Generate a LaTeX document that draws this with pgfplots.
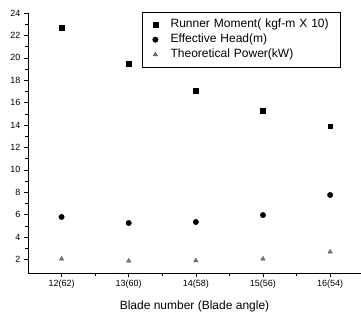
\documentclass[border=0pt]{standalone}
\usepackage{pgfplots}
\pgfplotsset{compat=1.18}
\usepackage{fontspec}
\setmainfont{Liberation Sans}
\pgfplotsset{
  myimg/.style={legend image code/.code={%
    \path (0bp,0bp) (22bp,0bp);
    \draw[#1] plot coordinates {(11bp,0bp)};}}}
\begin{document}
\begin{tikzpicture}
\begin{axis}[
  scale only axis,
  width=333bp, height=260bp,
  xmin=11.5, xmax=16.46,
  ymin=0.8, ymax=24,
  axis lines*=left,
  axis line style={line width=0.8bp},
  xtick={12,13,14,15,16},
  xticklabels={12(62),13(60),14(58),15(56),16(54)},
  ytick={2,4,...,24},
  minor x tick num=1,
  minor y tick num=1,
  tick align=outside,
  major tick length=4bp,
  minor tick length=2.5bp,
  tick style={black, line width=0.6bp},
  /pgf/number format/assume math mode=true,
  ticklabel style={font=\fontsize{9bp}{10bp}\selectfont},
  xticklabel style={yshift=1bp},
  xlabel={Blade number (Blade angle)},
  xlabel style={font=\fontsize{12bp}{13bp}\selectfont, yshift=-6bp},
  legend style={at={(0.342,1.004)}, anchor=north west,
    font=\fontsize{12bp}{13bp}\selectfont,
    draw=black, line width=0.5bp, inner xsep=2bp, inner ysep=5bp,
    nodes={text height=8.5bp, text depth=2.5bp, inner ysep=2bp},
    row sep=0bp,
    /tikz/every even column/.append style={text width=166bp},
    /tikz/every odd column/.append style={column sep=2bp}},
  legend cell align=left,
]
\addplot[only marks, mark=square*, mark size=2.4bp, black, myimg] coordinates {
 (12,22.7) (13,19.5) (14,17.1) (15,15.25) (16,13.9)};
\addlegendentry{Runner Moment( kgf-m X 10)}
\addplot[only marks, mark=*, mark size=2.7bp, black, myimg] coordinates {
 (12,5.8) (13,5.26) (14,5.35) (15,5.97) (16,7.76)};
\addlegendentry{Effective Head(m)}
\addplot[only marks, mark=triangle*, mark size=2.5bp, black!70, mark options={fill=black!50}, myimg] coordinates {
 (12,2.06) (13,1.88) (14,1.91) (15,2.06) (16,2.69)};
\addlegendentry{Theoretical Power(kW)}
\end{axis}
\pgfresetboundingbox
\path[use as bounding box] (-28bp,-41bp) rectangle (333bp,273bp);
\end{tikzpicture}
\end{document}
